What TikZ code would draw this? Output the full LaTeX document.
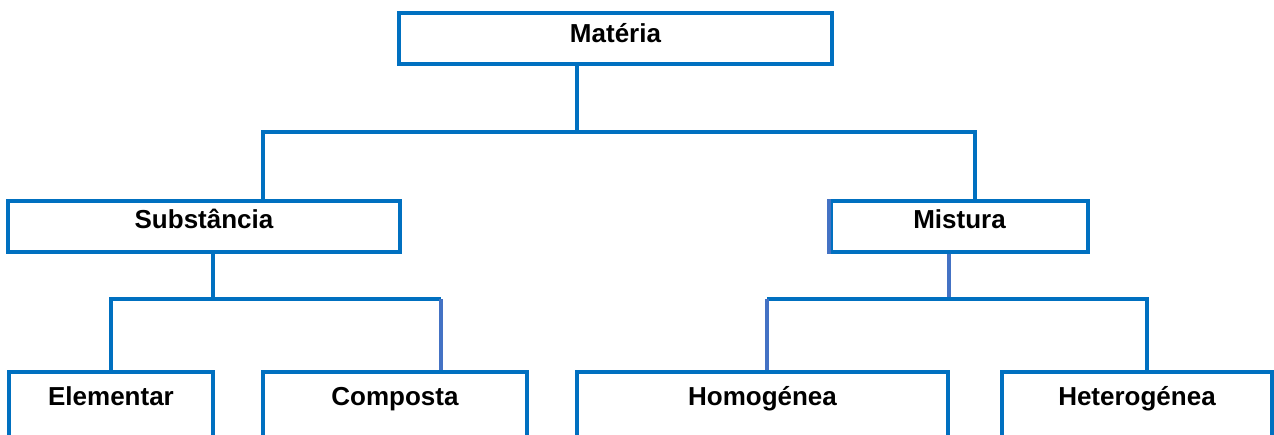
\documentclass[tikz,border=0pt]{standalone}
\usepackage{fontspec}
\setmainfont{Liberation Sans}
\definecolor{boxblue}{RGB}{0,112,192}
\definecolor{lineblue}{RGB}{68,114,196}
\tikzset{
  box/.style={draw=boxblue, line width=0.08cm, fill=white, anchor=north,
    inner xsep=0pt, inner ysep=0pt, font=\bfseries\fontsize{14.8}{17}\selectfont},
  rowa/.style={text height=0.58cm, text depth=0.44cm},
  rowb/.style={text height=0.54cm, text depth=0.48cm},
  rowc/.style={text height=0.66cm, text depth=1.20cm},
  link/.style={draw=boxblue, line width=0.08cm, line join=miter},
  linklight/.style={link, draw=lineblue}
}
\begin{document}
\begin{tikzpicture}[x=0.02cm, y=-0.02cm]
% \clip (0,0) rectangle (1274,434);
\useasboundingbox (0,0) rectangle (1274,434);
\clip (0,0) rectangle (1274,434);

% Drawing box materia
\node [box, rowa, minimum width=8.66cm] (materia) at (615.5,11) {Matéria};

% Drawing boxes substancia mistura
\node [box, rowb, minimum width=7.84cm] (subst) at (204,199) {Substância};
\node [box, rowb, minimum width=5.14cm] (mistura) at (959.5,199) {Mistura};

% Drawing boxes of the last row
\node [box, rowc, minimum width=4.08cm] (elem) at (111,370) {Elementar};
\node [box, rowc, minimum width=5.28cm] (comp) at (395,370) {Composta};
\node [box, rowc, minimum width=7.42cm] (homo) at (762.5,370) {Homogénea};
\node [box, rowc, minimum width=5.40cm] (hetero) at (1137,370) {Heterogénea};

% Junctions
\coordinate (m-out) at (577,131.5);
\coordinate (bar-l) at (263,131.5);
\coordinate (bar-r) at (975,131.5);
\coordinate (s-out) at (213,299);
\coordinate (s-l) at (111,299);
\coordinate (s-r) at (441,299);
\coordinate (x-out) at (949,299);
\coordinate (x-l) at (767,299);
\coordinate (x-r) at (1147,299);

% Drawing line materia -> substancia, mistura
\draw [link] (materia.south -| m-out) -- (m-out);
\draw [link] (subst.north -| bar-l) -- (bar-l) -- (bar-r) -- (mistura.north -| bar-r);

% Drawing line substancia -> elementar, composta
\draw [link] (subst.south -| s-out) -- (s-out);
\draw [link] (elem.north -| s-l) -- (s-l) -- (s-r);
\draw [linklight] (s-r) -- (comp.north -| s-r);

% Drawing line mistura -> homogenea, heterogenea
\draw [linklight] (mistura.south -| x-out) -- (x-out);
\draw [link] (x-l) -- (x-r) -- (hetero.north -| x-r);
\draw [linklight] (x-l) -- (homo.north -| x-l);
\draw [linklight] (mistura.north west) -- (mistura.south west);
\end{tikzpicture}
\end{document}
